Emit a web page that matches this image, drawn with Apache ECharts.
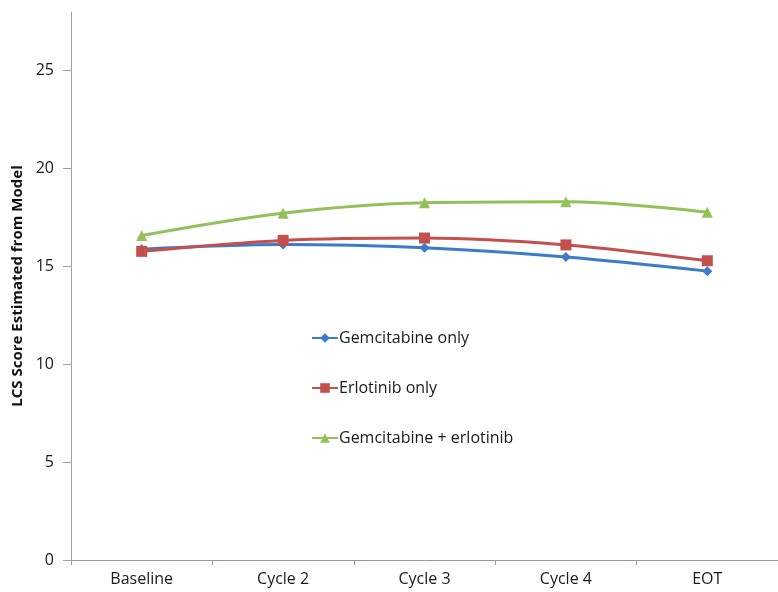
<!DOCTYPE html>
<html>
<head>
<meta charset="utf-8">
<script src="https://cdn.jsdelivr.net/npm/echarts@6/dist/echarts.min.js"></script>
<style>
  html, body { margin: 0; padding: 0; background: #fff; }
  #chart { width: 778px; height: 592px; }
</style>
</head>
<body>
<div id="chart"></div>
<script>
const categories = ['Baseline', 'Cycle 2', 'Cycle 3', 'Cycle 4', 'EOT'];
const gemcitabineOnly = [15.88, 16.12, 15.95, 15.48, 14.76];
const erlotinibOnly = [15.77, 16.33, 16.45, 16.1, 15.29];
const gemcitabineErlotinib = [16.58, 17.72, 18.25, 18.3, 17.77];
const yTicks = [0, 5, 10, 15, 20, 25];

const chart = echarts.init(document.getElementById('chart'));

const makeSeries = (name, data, color, symbol, size) => ({
    name: name,
    type: 'line',
    data: data,
    smooth: 0.35,
    symbol: symbol,
    symbolSize: size,
    lineStyle: { color: color, width: 3 },
    itemStyle: { color: color },
});

chart.setOption({
    animation: false,
    textStyle: { fontFamily: 'Open Sans' },
    grid: { left: 71, right: 0, top: 12, bottom: 32 },
    legend: {
        orient: 'vertical',
        left: 306,
        top: 325,
        itemGap: 34,
        itemWidth: 26,
        itemHeight: 12,
        textStyle: { fontSize: 16, color: '#1a1a1a', padding: [0, 0, 0, -4] },
        data: ['Gemcitabine only', 'Erlotinib only', 'Gemcitabine + erlotinib'],
    },
    xAxis: {
        type: 'category',
        data: categories,
        boundaryGap: true,
        axisLine: { lineStyle: { color: '#8c9aa6', width: 1 } },
        axisTick: { show: true, length: 5, inside: false, lineStyle: { color: '#8c9aa6' } },
        axisLabel: { fontSize: 16, color: '#1a1a1a', margin: 11 },
    },
    yAxis: {
        type: 'value',
        min: 0,
        max: 28,
        interval: 5,
        name: 'LCS Score Estimated from Model',
        nameLocation: 'middle',
        nameGap: 46,
        nameTextStyle: { fontSize: 15, fontWeight: 'bold', color: '#111' },
        splitLine: { show: false },
        axisLine: { show: true, lineStyle: { color: '#a0a0a0', width: 1 } },
        axisTick: { show: true, length: 8, customValues: yTicks, lineStyle: { color: '#a0a0a0' } },
        axisLabel: { fontSize: 16, color: '#1a1a1a', margin: 17, customValues: yTicks },
    },
    series: [
        makeSeries('Gemcitabine only', gemcitabineOnly, '#3a7bcb', 'diamond', 10),
        makeSeries('Erlotinib only', erlotinibOnly, '#c3504d', 'rect', 11),
        makeSeries('Gemcitabine + erlotinib', gemcitabineErlotinib, '#94c05a', 'triangle', 11),
    ],
});
</script>
</body>
</html>
